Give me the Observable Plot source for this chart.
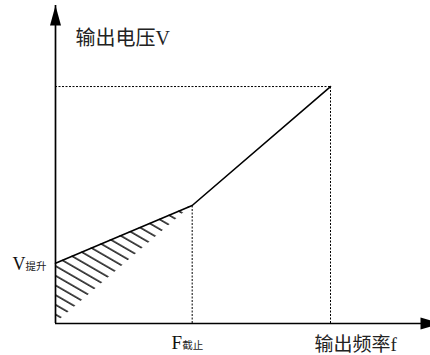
<!DOCTYPE html>
<html>
<head>
<meta charset="utf-8">
<script src="https://cdn.jsdelivr.net/npm/d3@7"></script>
<script src="https://cdn.jsdelivr.net/npm/@observablehq/plot@0.6"></script>
<style>
  html, body { margin: 0; padding: 0; background: #fff; }
</style>
</head>
<body>
<script>
// V/f curve key points (frequency in Hz-like units, voltage in % units)
const freqPoints = [0, 24.85, 50];      // 0, F截止, F额定
const voltPoints = [25.4, 49.8, 100];   // V提升, V at F截止, V max
const xAxisEnd = 70;                     // x arrow tip
const yAxisEnd = 134.2;                  // y arrow tip
const yLabel = "输出电压V";
const xLabel = "输出频率f";
const boostMain = "V", boostSub = "提升";
const cutMain = "F", cutSub = "截止";

const curve = freqPoints.map((f, i) => ({f, v: voltPoints[i]}));
const hatchArea = [
  {f: freqPoints[0], lo: 0, hi: voltPoints[0]},
  {f: freqPoints[1], lo: voltPoints[1], hi: voltPoints[1]}
];

const serif = "'Liberation Serif', 'Noto Sans CJK SC', serif";

const arrowHead = {
  draw(context, l, r) {
    context.moveTo(-r, 0);
    context.lineTo(0, -l);
    context.lineTo(r, 0);
    context.closePath();
  }
};

const svg = Plot.plot({
  width: 430,
  height: 355,
  marginLeft: 55,
  marginRight: 0,
  marginTop: 5,
  marginBottom: 32,
  x: {domain: [0, 68.18], axis: null},
  y: {domain: [0, yAxisEnd], axis: null},
  style: {fontFamily: serif, background: "#fff", overflow: "visible"},
  marks: [
    // hatched boost triangle
    Plot.areaY(hatchArea, {x: "f", y1: "lo", y2: "hi", fill: "url(#hatch)", stroke: "none"}),
    // dotted guides
    Plot.ruleX([curve[1]], {x: "f", y1: 0, y2: "v", stroke: "black", strokeWidth: 1, strokeDasharray: "2,1.5"}),
    Plot.ruleX([curve[2]], {x: "f", y1: 0, y2: "v", stroke: "black", strokeWidth: 1, strokeDasharray: "2,1.5"}),
    Plot.ruleY([curve[2]], {y: "v", x1: 0, x2: "f", stroke: "black", strokeWidth: 1, strokeDasharray: "2,1.5"}),
    // axes
    Plot.ruleX([0], {stroke: "black", strokeWidth: 1.7}),
    Plot.ruleY([0], {stroke: "black", strokeWidth: 1.7}),
    Plot.vector([{x: 0, y: yAxisEnd}], {x: "x", y: "y", length: 20, r: 5.5, rotate: 0, anchor: "end", shape: arrowHead, fill: "black", stroke: "none"}),
    Plot.vector([{x: xAxisEnd, y: 0}], {x: "x", y: "y", length: 20, r: 6, rotate: 90, anchor: "end", shape: arrowHead, fill: "black", stroke: "none"}),
    // V/f curve
    Plot.line(curve, {x: "f", y: "v", stroke: "black", strokeWidth: 1.6}),
    // labels
    Plot.text([yLabel], {x: 0, y: voltPoints[2], text: d => d, dx: 20, dy: -42, textAnchor: "start", lineAnchor: "bottom", fontSize: 20, fill: "#222"}),
    Plot.text([xLabel], {x: freqPoints[2], y: 0, text: d => d, dx: -16, dy: 27, textAnchor: "start", lineAnchor: "bottom", fontSize: 19, fill: "#222"}),
    Plot.text([boostMain], {x: 0, y: voltPoints[0], text: d => d, dx: -30, dy: 6.5, textAnchor: "end", lineAnchor: "bottom", fontSize: 18, fill: "#111"}),
    Plot.text([boostSub], {x: 0, y: voltPoints[0], text: d => d, dx: -30, dy: 6.5, textAnchor: "start", lineAnchor: "bottom", fontSize: 10.5, fill: "#222"}),
    Plot.text([cutMain], {x: freqPoints[1], y: 0, text: d => d, dx: -10, dy: 25, textAnchor: "end", lineAnchor: "bottom", fontSize: 19, fill: "#111"}),
    Plot.text([cutSub], {x: freqPoints[1], y: 0, text: d => d, dx: -10, dy: 25, textAnchor: "start", lineAnchor: "bottom", fontSize: 10.5, fill: "#222"})
  ]
});

// hatch pattern definition
const defs = d3.select(svg).insert("defs", ":first-child");
const pat = defs.append("pattern")
  .attr("id", "hatch")
  .attr("patternUnits", "userSpaceOnUse")
  .attr("width", 20)
  .attr("height", 8.4)
  .attr("patternTransform", "rotate(30)");
pat.append("line")
  .attr("x1", 0).attr("y1", 1).attr("x2", 20).attr("y2", 1)
  .attr("stroke", "black").attr("stroke-width", 1.4);

document.body.appendChild(svg);
</script>
</body>
</html>
